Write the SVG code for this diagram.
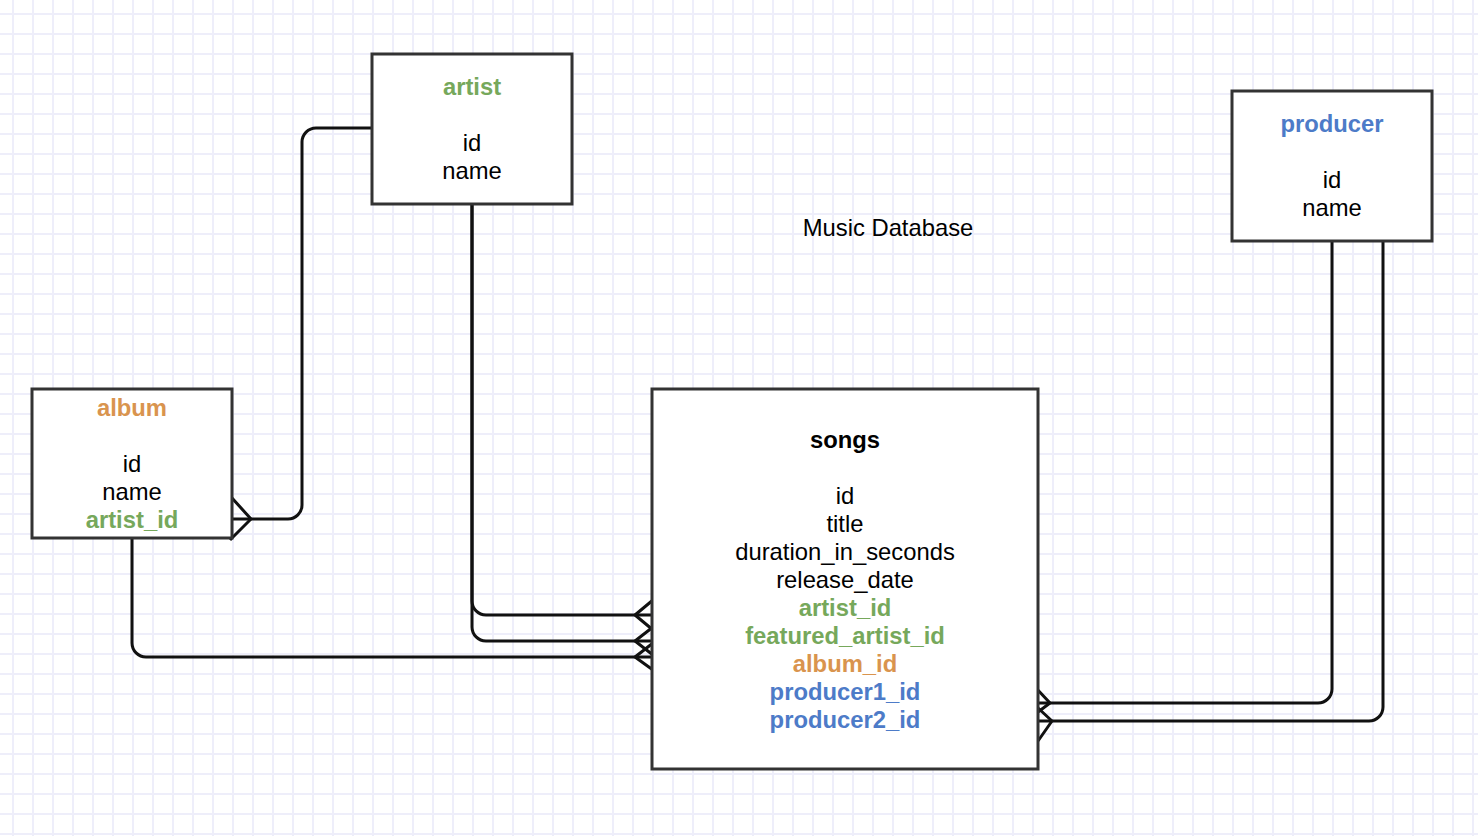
<svg xmlns="http://www.w3.org/2000/svg" width="1478" height="836" viewBox="0 0 1478 836">
  <defs>
    <pattern id="grid" patternUnits="userSpaceOnUse" x="12" y="13" width="20" height="20">
      <path d="M0 1 H20 M1 0 V20" stroke="#eeeefa" stroke-width="2" fill="none"/>
    </pattern>
    <style>
      .box { fill: #ffffff; stroke: #333333; stroke-width: 3; }
      .t { font-family: "Liberation Sans", Arial, sans-serif; font-size: 23.8px; text-anchor: middle; fill: #000000; }
      .b { font-weight: bold; }
      .g { fill: #76a85b; }
      .o { fill: #d9944e; }
      .bl { fill: #4d7bc8; }
      .c { fill: none; stroke: #111111; stroke-width: 3; stroke-linejoin: round; }
    </style>
  </defs>
  <rect width="1478" height="836" fill="#ffffff"/>
  <rect width="1478" height="836" fill="url(#grid)"/>

  <g id="connectors">
    <!-- artist -> album -->
    <path class="c" d="M372,128 H316 A14,14 0 0 0 302,142 V505 A14,14 0 0 1 288,519 H232"/>
    <path class="c" d="M232,498 L251,519 L230,540"/>
    <!-- artist -> songs (artist_id) -->
    <path class="c" d="M472,204 V601 A14,14 0 0 0 486,615 H652"/>
    <path class="c" d="M653,600 L635,615 L653,630"/>
    <!-- artist -> songs (featured_artist_id) -->
    <path class="c" d="M472,204 V627 A14,14 0 0 0 486,641 H652"/>
    <path class="c" d="M653,627 L635,641 L653,655"/>
    <!-- album -> songs -->
    <path class="c" d="M132,538 V643 A14,14 0 0 0 146,657 H652"/>
    <path class="c" d="M653,643 L635,657 L653,670"/>
    <!-- producer -> songs (producer1) -->
    <path class="c" d="M1332,241 V689 A14,14 0 0 1 1318,703 H1038"/>
    <path class="c" d="M1036,688 L1050,703 L1038,712"/>
    <!-- producer -> songs (producer2) -->
    <path class="c" d="M1383,241 V707 A14,14 0 0 1 1369,721 H1038"/>
    <path class="c" d="M1038,708 L1052,721 L1038,741"/>
  </g>

  <g id="artist">
    <rect class="box" x="372" y="54" width="200" height="150"/>
    <text class="t b g" x="472" y="95">artist</text>
    <text class="t" x="472" y="151">id</text>
    <text class="t" x="472" y="179">name</text>
  </g>

  <g id="album">
    <rect class="box" x="32" y="389" width="200" height="149"/>
    <text class="t b o" x="132" y="416">album</text>
    <text class="t" x="132" y="472">id</text>
    <text class="t" x="132" y="500">name</text>
    <text class="t b g" x="132" y="528">artist_id</text>
  </g>

  <g id="producer">
    <rect class="box" x="1232" y="91" width="200" height="150"/>
    <text class="t b bl" x="1332" y="132">producer</text>
    <text class="t" x="1332" y="188">id</text>
    <text class="t" x="1332" y="216">name</text>
  </g>

  <g id="songs">
    <rect class="box" x="652" y="389" width="386" height="380"/>
    <text class="t b" x="845" y="448">songs</text>
    <text class="t" x="845" y="504">id</text>
    <text class="t" x="845" y="532">title</text>
    <text class="t" x="845" y="560">duration_in_seconds</text>
    <text class="t" x="845" y="588">release_date</text>
    <text class="t b g" x="845" y="616">artist_id</text>
    <text class="t b g" x="845" y="644">featured_artist_id</text>
    <text class="t b o" x="845" y="672">album_id</text>
    <text class="t b bl" x="845" y="700">producer1_id</text>
    <text class="t b bl" x="845" y="728">producer2_id</text>
  </g>

  <g id="title">
    <text class="t" x="888" y="236">Music Database</text>
  </g>
</svg>
